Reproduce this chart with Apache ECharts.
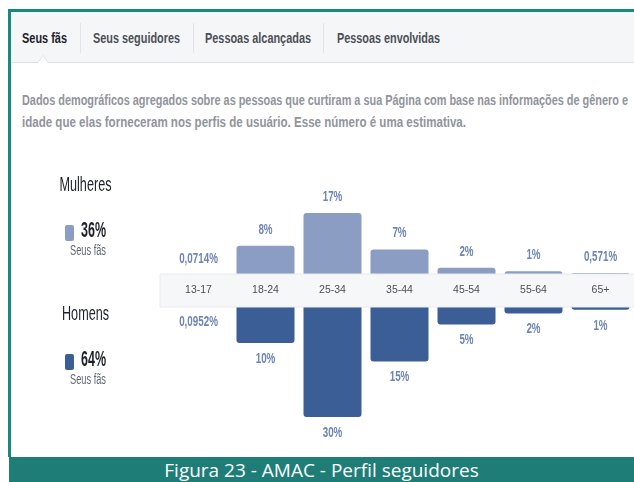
<!DOCTYPE html>
<html>
<head>
<meta charset="utf-8">
<script src="https://cdn.jsdelivr.net/npm/echarts@6/dist/echarts.min.js"></script>
<style>
  html, body { margin: 0; padding: 0; }
  body { width: 634px; height: 482px; position: relative; overflow: hidden; background: #fff; }
  .frame { position: absolute; left: 8px; top: 9px; width: 640px; height: 448px;
    border-left: 3px solid #178a7e; border-top: 3px solid #178a7e; box-sizing: border-box; }
  .tabs { position: absolute; left: 11px; top: 12px; width: 630px; height: 51px;
    background: #f5f6f7; border-bottom: 1px solid #dddfe2; box-sizing: border-box; }
  .fit { display: inline-block; transform-origin: 0 50%; white-space: nowrap; }
  .tab { position: absolute; top: 0; font: bold 15px 'Liberation Sans', Arial, sans-serif; line-height: 52px;
    color: #4b4f56; }
  .tab.active { color: #1d2129; }
  .sep { position: absolute; top: 11px; width: 1px; height: 30px; background: #e3e4e7; }
  .notch { position: absolute; left: 37px; top: 55px; width: 0; height: 0;
    border-left: 6px solid transparent; border-right: 6px solid transparent; border-bottom: 8px solid #dddfe2; }
  .notch2 { position: absolute; left: 38px; top: 56px; width: 0; height: 0;
    border-left: 5px solid transparent; border-right: 5px solid transparent; border-bottom: 7px solid #fff; }
  .desc { position: absolute; left: 22px; font: bold 14px 'Liberation Sans', Arial, sans-serif;
    color: #90949c; line-height: 22px; }
  .footer { position: absolute; left: 9px; top: 457px; width: 625px; height: 25px; background: #1e7d76;
    color: #fff; font: 19px 'Open Sans', sans-serif; line-height: 27px; text-align: center; white-space: nowrap; }
  #chart { position: absolute; left: 0; top: 0; width: 634px; height: 482px; }
</style>
</head>
<body>
<div class="frame"></div>
<div class="tabs">
  <div class="tab active fit" data-w="45" style="left:11px">Seus fãs</div>
  <div class="sep" style="left:69px"></div>
  <div class="tab fit" data-w="87" style="left:82px">Seus seguidores</div>
  <div class="sep" style="left:182px"></div>
  <div class="tab fit" data-w="106" style="left:194px">Pessoas alcançadas</div>
  <div class="sep" style="left:312px"></div>
  <div class="tab fit" data-w="103" style="left:326px">Pessoas envolvidas</div>
</div>
<div class="notch"></div>
<div class="notch2"></div>
<div class="desc fit" data-w="606" style="top:89px">Dados demográficos agregados sobre as pessoas que curtiram a sua Página com base nas informações de gênero e</div>
<div class="desc fit" data-w="444" style="top:111px">idade que elas forneceram nos perfis de usuário. Esse número é uma estimativa.</div>
<div id="chart"></div>
<div class="footer">Figura 23 - AMAC - Perfil seguidores</div>
<script>
// dados
const ageGroups = ['13-17', '18-24', '25-34', '35-44', '45-54', '55-64', '65+']
const womenShare = [0.0714, 8, 17, 7, 2, 1, 0.571]
const menShare = [0.0952, 10, 30, 15, 5, 2, 1]
const genders = ['Mulheres', 'Homens']
const genderTotals = [36, 64]

const sans = "'Liberation Sans', Arial, sans-serif"
const lightBlue = '#8b9dc3'
const darkBlue = '#3b5e96'
const labelBlue = '#6d84b4'

// aperta os textos HTML na largura do original (fonte condensada)
document.querySelectorAll('.fit').forEach(el => {
  const w = el.getBoundingClientRect().width
  el.style.transform = 'scaleX(' + (Number(el.dataset.w) / w) + ')'
})

// 0.0714 -> "0,0714%"
const fmt = v => String(v).replace('.', ',') + '%'

const measureCtx = document.createElement('canvas').getContext('2d')
const squeeze = (text, font, width) => {
  measureCtx.font = font
  return width / measureCtx.measureText(text).width
}

const legendText = (text, font, x, y, width, align, fill) => ({
  type: 'text', x: x, y: y, z: 20, scaleX: squeeze(text, font, width),
  style: { text: text, font: font, fill: fill, textAlign: align, textVerticalAlign: 'middle' }
})

const legendBlock = (i, y) => {
  const name = genders[i]
  const pct = genderTotals[i] + '%'
  return [
    legendText(name, '20px ' + sans, 85.5, y + 10, i === 0 ? 52 : 47, 'center', '#1d2129'),
    { type: 'rect', shape: { x: 65, y: y + 50, width: 9, height: 16, r: 2 }, z: 20,
      style: { fill: i === 0 ? lightBlue : darkBlue } },
    legendText(pct, 'bold 22px ' + sans, 81, y + 56, 25, 'left', '#1d2129'),
    legendText('Seus fãs', '14px ' + sans, 70, y + 76, 36, 'left', '#606770')
  ]
}

// rótulos de valor como série custom, para poder estreitar o texto
const valueLabels = (xi, yi, data, dy) => ({
  type: 'custom', xAxisIndex: xi, yAxisIndex: yi, z: 12,
  data: data.map((v, i) => [i, v]),
  renderItem: (params, api) => {
    const p = api.coord([api.value(0), api.value(1)])
    return {
      type: 'text', x: p[0], y: p[1] + dy, scaleX: 0.7,
      style: {
        text: fmt(api.value(1)), textAlign: 'center', textVerticalAlign: 'middle',
        font: 'bold 14px ' + sans, fill: labelBlue
      }
    }
  }
})

const chart = echarts.init(document.getElementById('chart'))

const option = {
  animation: false,
  grid: [
    { left: 165, width: 479.5, top: 202, height: 73 },
    { left: 165, width: 479.5, top: 306, height: 111 }
  ],
  xAxis: [
    {
      type: 'category', gridIndex: 0, data: ageGroups, z: 10,
      axisLine: { show: false }, axisTick: { show: false }, splitLine: { show: false },
      axisLabel: { margin: 10, fontSize: 10.5, fontFamily: sans, color: '#4b4f56' }
    },
    { type: 'category', gridIndex: 1, data: ageGroups, show: false }
  ],
  yAxis: [
    { type: 'value', gridIndex: 0, min: 0, max: 20, show: false },
    { type: 'value', gridIndex: 1, min: 0, max: 30, inverse: true, show: false }
  ],
  series: [
    {
      name: genders[0], type: 'bar', xAxisIndex: 0, yAxisIndex: 0,
      data: womenShare, barWidth: 58, barMinHeight: 1,
      itemStyle: { color: lightBlue, borderRadius: [3, 3, 0, 0] }
    },
    {
      name: genders[1], type: 'bar', xAxisIndex: 1, yAxisIndex: 1,
      data: menShare, barWidth: 58, barMinHeight: 1,
      itemStyle: { color: darkBlue, borderRadius: [0, 0, 3, 3] }
    },
    valueLabels(0, 0, womenShare, -16),
    valueLabels(1, 1, menShare, 16)
  ],
  graphic: [
    {
      type: 'rect', z: 5,
      shape: { x: 160, y: 274, width: 480, height: 33 },
      style: { fill: '#f6f7f9', stroke: '#e9eaed', lineWidth: 1 }
    },
    ...legendBlock(0, 175),
    ...legendBlock(1, 304)
  ]
}

chart.setOption(option)
</script>
</body>
</html>
